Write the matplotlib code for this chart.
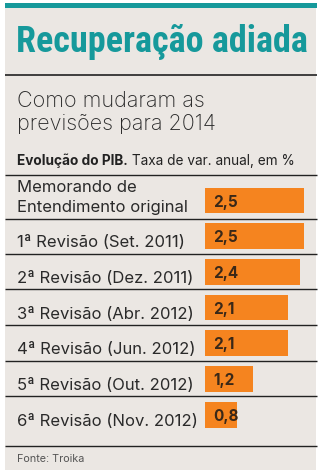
import matplotlib
matplotlib.use("Agg")
import matplotlib.pyplot as plt
from matplotlib.patches import Rectangle

# ---- data ----
categories = [
    "Memorando de\nEntendimento original",
    "1ª Revisão (Set. 2011)",
    "2ª Revisão (Dez. 2011)",
    "3ª Revisão (Abr. 2012)",
    "4ª Revisão (Jun. 2012)",
    "5ª Revisão (Out. 2012)",
    "6ª Revisão (Nov. 2012)",
]
values = [2.5, 2.5, 2.4, 2.1, 2.1, 1.2, 0.8]
value_labels = ["2,5", "2,5", "2,4", "2,1", "2,1", "1,2", "0,8"]

title = "Recuperação adiada"
subtitle_lines = ["Como mudaram as", "previsões para 2014"]
note_bold = "Evolução do PIB."
note_rest = " Taxa de var. anual, em %"
source = "Fonte: Troika"

TEAL = "#16999b"
ORANGE = "#f5841f"
BG = "#ebe7e3"
DARK = "#2a2a2a"
VALC = "#3a2818"

W, H = 322, 476
fig = plt.figure(figsize=(W / 100, H / 100), dpi=100)
fig.patch.set_facecolor("white")

bg = fig.add_axes([0, 0, 1, 1])
bg.set_xlim(0, W)
bg.set_ylim(H, 0)
bg.axis("off")

# panel
bg.add_patch(Rectangle((5, 3), 311, 467, facecolor=BG, edgecolor="none", zorder=0))
bg.add_patch(Rectangle((5, 3), 312, 5, facecolor=TEAL, edgecolor="none", zorder=1))

sans = ["Inter", "Lato", "DejaVu Sans"]
r = fig.canvas.get_renderer()

# title, fitted to width
t = bg.text(16, 38, title, color=TEAL, fontsize=27, fontweight="heavy",
            family=["Roboto Condensed", "Liberation Sans Narrow", "Roboto", "DejaVu Sans"],
            va="center_baseline", ha="left")
fig.canvas.draw()
bb = t.get_window_extent(r)
t.set_fontsize(27 * 292 / bb.width)

bg.hlines(75, 5, 317, color="#222222", lw=1.2)
bg.text(17, 107, subtitle_lines[0], color=DARK, fontsize=15.5, family=sans,
        fontweight="light", va="baseline")
bg.text(17, 130, subtitle_lines[1], color=DARK, fontsize=15.5, family=sans,
        fontweight="light", va="baseline")

tb = bg.text(17, 165, note_bold, color="#222222", fontsize=9.8, family=sans,
             fontweight="bold", va="baseline")
fig.canvas.draw()
bbb = tb.get_window_extent(r)
bg.text(17 + bbb.width, 165, note_rest, color="#222222", fontsize=9.8, family=sans,
        va="baseline")

# row dividers
for yl in [175, 219, 254, 289, 325, 361, 396, 446]:
    bg.hlines(yl, 5, 317, color="#222222", lw=1.0)

# bars
px_per_unit = 39.6
left_px, right_px = 205, 317
top_px, bot_px = 175, 446
c0, step = 200.5, 35.7
ax = fig.add_axes([left_px / W, 1 - bot_px / H, (right_px - left_px) / W, (bot_px - top_px) / H])
ax.set_xlim(0, (right_px - left_px) / px_per_unit)
ax.set_ylim((bot_px - c0) / step, (top_px - c0) / step)
ax.axis("off")
ax.patch.set_alpha(0)
ypos = list(range(len(values)))
ax.barh(ypos, values, height=0.72, color=ORANGE, edgecolor="none")
for i, lab in enumerate(value_labels):
    ax.text(0.2, i, lab, color=VALC, fontsize=11, fontweight="bold", family=sans,
            va="center_baseline", ha="left")

# category labels
for i, cat in enumerate(categories):
    cy = c0 + step * i
    if "\n" in cat:
        l1, l2 = cat.split("\n")
        bg.text(17, 192, l1, color=DARK, fontsize=12, family=sans, va="baseline")
        bg.text(17, 212, l2, color=DARK, fontsize=12, family=sans, va="baseline")
    else:
        bg.text(17, cy + 11, cat, color=DARK, fontsize=12, family=sans, va="baseline")

bg.text(17, 462, source, color="#555555", fontsize=7.8, family=sans, va="baseline")

fig.savefig("out.png", dpi=100, facecolor="white")
